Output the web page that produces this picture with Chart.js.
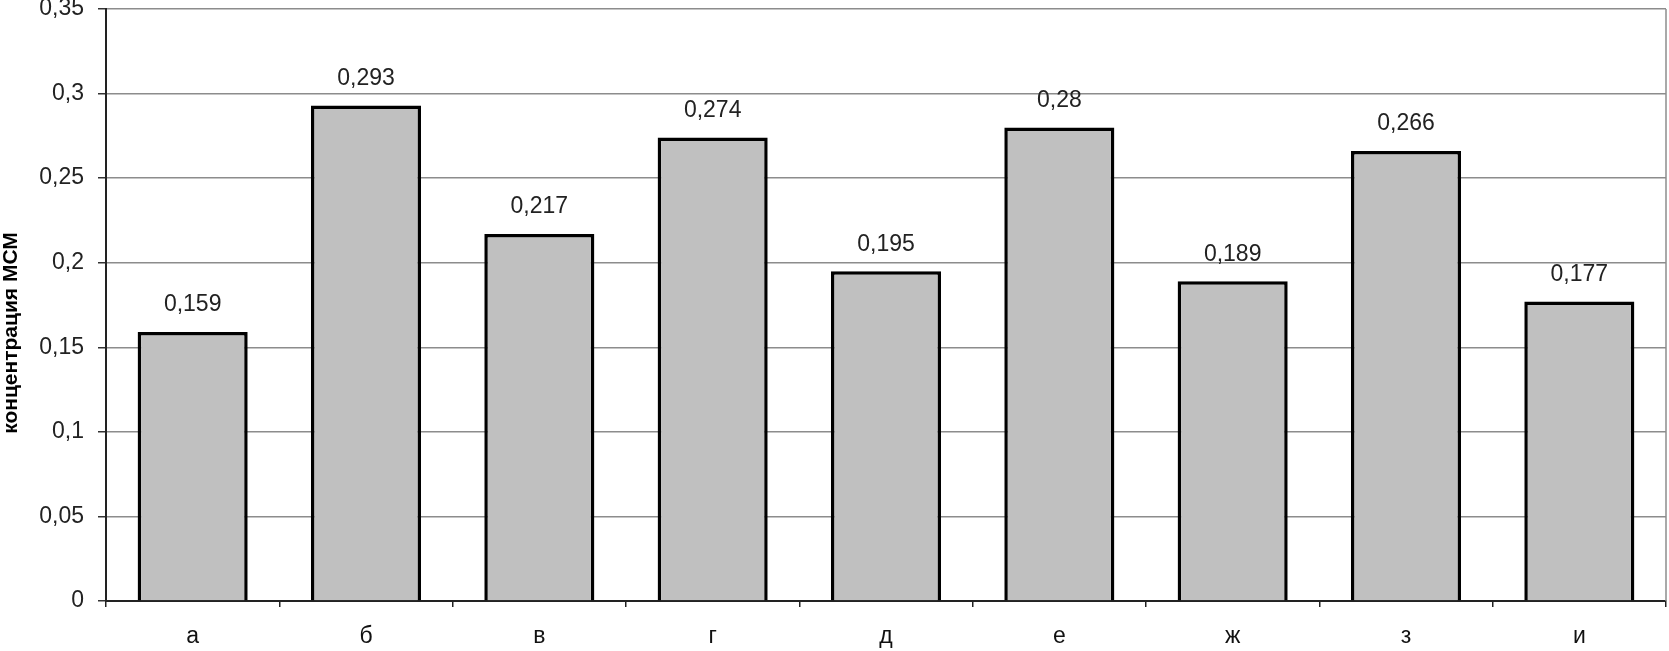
<!DOCTYPE html>
<html>
<head>
<meta charset="utf-8">
<script src="https://cdn.jsdelivr.net/npm/chart.js@4"></script>
<style>
  html, body { margin: 0; padding: 0; background: #fff; }
  #wrap { width: 1669px; height: 651px; }
</style>
</head>
<body>
<div id="wrap"><canvas id="chart"></canvas></div>
<script>
// data
var categories = ["а", "б", "в", "г", "д", "е", "ж", "з", "и"];
var values = [0.159, 0.293, 0.217, 0.274, 0.195, 0.28, 0.189, 0.266, 0.177];
var yTitle = "концентрация МСМ";

var fontFamily = "'Liberation Sans', Arial, sans-serif";

function comma(v) {
  return String(v).replace(".", ",");
}

// value labels above bars
var barLabels = {
  id: "barLabels",
  afterDatasetsDraw: function (chart) {
    var ctx = chart.ctx;
    var meta = chart.getDatasetMeta(0);
    ctx.save();
    ctx.font = "23px " + fontFamily;
    ctx.fillStyle = "#222";
    ctx.textAlign = "center";
    ctx.textBaseline = "middle";
    meta.data.forEach(function (bar, i) {
      ctx.fillText(comma(values[i]), bar.x, bar.y - 27);
    });
    ctx.restore();
  },
};

// grey frame on the right + rotated y title (sits a bit below the middle)
var frameAndTitle = {
  id: "frameAndTitle",
  beforeDatasetsDraw: function (chart) {
    var a = chart.chartArea;
    var ctx = chart.ctx;
    ctx.save();
    ctx.strokeStyle = "#8c8c8c";
    ctx.lineWidth = 1.5;
    ctx.beginPath();
    ctx.moveTo(a.right, a.top);
    ctx.lineTo(a.right, a.bottom);
    ctx.stroke();

    ctx.translate(11, (a.top + a.bottom) / 2 + 28);
    ctx.rotate(-Math.PI / 2);
    ctx.font = "bold 21px " + fontFamily;
    ctx.fillStyle = "#000";
    ctx.textAlign = "center";
    ctx.textBaseline = "middle";
    ctx.fillText(yTitle, 0, 0);
    ctx.restore();
  },
};

var chart = new Chart(document.getElementById("chart"), {
  type: "bar",
  data: {
    labels: categories,
    datasets: [
      {
        data: values,
        backgroundColor: "#c0c0c0",
        borderColor: "#000",
        borderWidth: 3.5,
        categoryPercentage: 1,
        barPercentage: 0.635,
      },
    ],
  },
  options: {
    responsive: true,
    maintainAspectRatio: false,
    animation: false,
    layout: { padding: { top: 0, right: 3, left: 0, bottom: 0 } },
    plugins: {
      legend: { display: false },
      tooltip: { enabled: false },
    },
    scales: {
      x: {
        grid: {
          offset: true,
          drawOnChartArea: false,
          drawTicks: true,
          tickLength: 6,
          color: "#222",
          lineWidth: 1.5,
        },
        border: { color: "#222", width: 2 },
        ticks: {
          font: { family: fontFamily, size: 23 },
          color: "#111",
          padding: 16,
        },
        afterFit: function (scale) {
          scale.height = 50;
        },
      },
      y: {
        min: 0,
        max: 0.35,
        grid: {
          color: "#8c8c8c",
          lineWidth: 1.5,
          tickLength: 8,
          tickColor: "#333",
        },
        border: { color: "#222", width: 2 },
        ticks: {
          stepSize: 0.05,
          font: { family: fontFamily, size: 23 },
          color: "#222",
          padding: 14,
          callback: function (v) {
            return comma(Math.round(v * 100) / 100);
          },
        },
        afterFit: function (scale) {
          scale.width = 106;
          scale.paddingTop = 9;
          scale.paddingBottom = 0;
        },
      },
    },
  },
  plugins: [barLabels, frameAndTitle],
});
</script>
</body>
</html>
